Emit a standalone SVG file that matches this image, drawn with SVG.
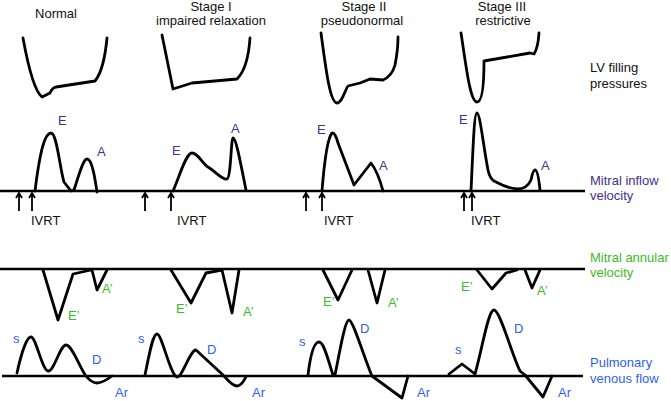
<svg xmlns="http://www.w3.org/2000/svg" width="671" height="401" viewBox="0 0 671 401">
<style>
.t{font-family:"Liberation Sans",Arial,sans-serif;font-size:13px;fill:#111}
.c{fill:none;stroke:#000;stroke-width:2.8;stroke-linejoin:round;stroke-linecap:round}
.ax{fill:none;stroke:#000;stroke-width:2.6}
.ar{fill:none;stroke:#000;stroke-width:1.8}
.pu{fill:#45308f}
.gr{fill:#3dba26}
.bl{fill:#2e5ff0}
</style>
<rect width="671" height="401" fill="#fff"/>
<g id="titles">
<text class="t" x="56" y="18" text-anchor="middle">Normal</text>
<text class="t" x="211" y="10.5" text-anchor="middle">Stage I</text>
<text class="t" x="211" y="25" text-anchor="middle">impaired relaxation</text>
<text class="t" x="364" y="10.5" text-anchor="middle">Stage II</text>
<text class="t" x="362" y="25" text-anchor="middle">pseudonormal</text>
<text class="t" x="502" y="10.5" text-anchor="middle">Stage III</text>
<text class="t" x="503" y="25" text-anchor="middle">restrictive</text>
</g>
<g id="lv-filling">
<text class="t" x="590" y="72">LV filling</text>
<text class="t" x="590" y="88">pressures</text>
<path class="c" d="M23,38 C27,60 33,90 42,97 L50,93 Q52,88 56,87 L95,81 Q104,70 107,38"/>
<path class="c" d="M162,35 L173,89 L192,83 L237,79 Q248,68 250,38"/>
<path class="c" d="M321,33 C326,70 330,103 337,103 C342,103 345,90 348,86 L360,83 L370,79 L383,80 Q392,76 395,65 Q398,50 398,37"/>
<path class="c" d="M461,33 C466,65 470,102 477,102 C483,102 484,80 484,61 L530,53 L534,54 Q538,48 539,33"/>
</g>
<g id="mitral-inflow">
<line class="ax" x1="0" y1="191" x2="585" y2="191"/>
<path class="c" d="M35,191 C40,150 45,133 51,133 C57,133 60,170 64,182 L71,191 L74,190 C78,178 83,159 87,159 C92,159 95,178 97,192"/>
<path class="c" d="M173,191 C180,175 186,153 192,153 C198,153 202,163 208,167 C215,171 222,180 227,179 C231,178 231,138 233,138 C236,138 240,160 246,190"/>
<path class="c" d="M322,191 Q326,140 332,133 Q335,132 338,143 L354,185 L371,163 Q378,172 383,191"/>
<path class="c" d="M471,191 C473,150 474,113 477,113 C480,113 484,150 488,170 Q490,180 496,182 Q507,188 517,189 Q527,189 531,180 Q533,170 535,170 Q538,170 540,190"/>
<text class="t pu" x="58" y="125">E</text>
<text class="t pu" x="97" y="156">A</text>
<text class="t pu" x="172" y="155">E</text>
<text class="t pu" x="231" y="133">A</text>
<text class="t pu" x="317" y="134">E</text>
<text class="t pu" x="379" y="170">A</text>
<text class="t pu" x="459" y="124">E</text>
<text class="t pu" x="541" y="170">A</text>
<text class="t pu" x="590" y="185">Mitral inflow</text>
<text class="t pu" x="590" y="200">velocity</text>
</g>
<g id="ivrt">
<path class="ar" d="M19,211 V193 M16,198 L19,193 L22,198"/>
<path class="ar" d="M32,211 V193 M29,198 L32,193 L35,198"/>
<path class="ar" d="M145,211 V193 M142,198 L145,193 L148,198"/>
<path class="ar" d="M171,211 V193 M168,198 L171,193 L174,198"/>
<path class="ar" d="M306,211 V193 M303,198 L306,193 L309,198"/>
<path class="ar" d="M322,211 V193 M319,198 L322,193 L325,198"/>
<path class="ar" d="M464,211 V193 M461,198 L464,193 L467,198"/>
<path class="ar" d="M472,211 V193 M469,198 L472,193 L475,198"/>
<text class="t" x="31" y="225">IVRT</text>
<text class="t" x="177" y="225">IVRT</text>
<text class="t" x="324" y="225">IVRT</text>
<text class="t" x="471" y="225">IVRT</text>
</g>
<g id="mitral-annular">
<line class="ax" x1="0" y1="269" x2="585" y2="269"/>
<path class="c" d="M43,270 L58,320 L73,274 L91,270 M92,270 L97,290 L107,270"/>
<path class="c" d="M171,270 L191,303 L206,273 L222,270 M222,270 L232,313 L239,270"/>
<path class="c" d="M323,270 L338,300 L352,270 M368,270 L377,303 L385,270"/>
<path class="c" d="M477,270 L492,289 L506,273 L517,270 M525,270 L532,288 L540,270"/>
<text class="t gr" x="102" y="293">A’</text>
<text class="t gr" x="68" y="320">E’</text>
<text class="t gr" x="176" y="313">E’</text>
<text class="t gr" x="243" y="316">A’</text>
<text class="t gr" x="323" y="306">E’</text>
<text class="t gr" x="388" y="307">A’</text>
<text class="t gr" x="461" y="291">E’</text>
<text class="t gr" x="537" y="295">A’</text>
<text class="t gr" x="590" y="262">Mitral annular</text>
<text class="t gr" x="590" y="277">velocity</text>
</g>
<g id="pulmonary-venous">
<line class="ax" x1="2" y1="376" x2="583" y2="376"/>
<path class="c" d="M17,373 C22,350 27,337 31,337 C36,337 42,370 48,371 C54,372 60,345 66,345 C72,345 80,368 86,376 C90,381 93,383 97,383 C102,383 108,379 112,376"/>
<path class="c" d="M145,375 C150,350 153,334 157,334 C162,334 170,375 177,377 C182,378 190,350 196,350 L223,375 C228,380 232,386 237,386 C242,386 244,380 246,377"/>
<path class="c" d="M308,375 C311,350 315,342 319,342 C324,342 328,360 333,375 L335,375 C340,350 345,320 349,320 C353,320 365,360 372,376 L402,398 L408,376"/>
<path class="c" d="M449,374 L462,364 L475,374 C482,350 488,310 494,310 C500,310 512,355 520,371 L525,375 L543,397 L552,376"/>
<text class="t bl" x="13" y="343">s</text>
<text class="t bl" x="92" y="364">D</text>
<text class="t bl" x="115" y="397">Ar</text>
<text class="t bl" x="138" y="343">s</text>
<text class="t bl" x="207" y="354">D</text>
<text class="t bl" x="252" y="397">Ar</text>
<text class="t bl" x="299" y="346">s</text>
<text class="t bl" x="360" y="333">D</text>
<text class="t bl" x="417" y="397">Ar</text>
<text class="t bl" x="455" y="354">s</text>
<text class="t bl" x="514" y="333">D</text>
<text class="t bl" x="558" y="397">Ar</text>
<text class="t bl" x="590" y="367">Pulmonary</text>
<text class="t bl" x="590" y="383">venous flow</text>
</g>
</svg>
